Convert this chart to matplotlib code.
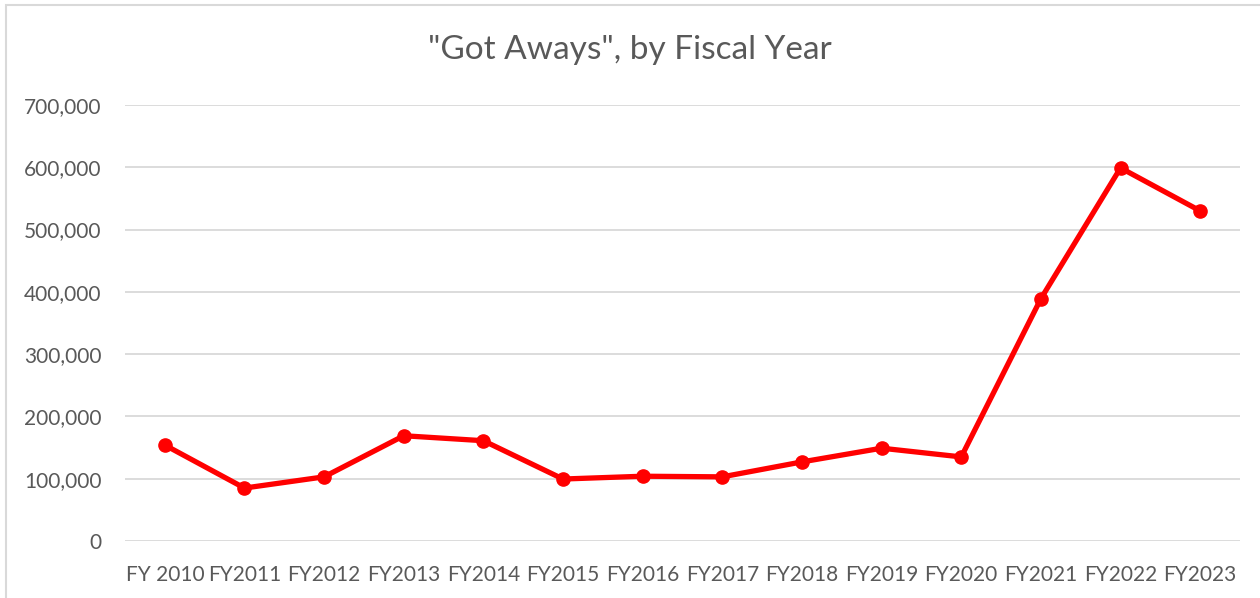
import matplotlib.pyplot as plt
from matplotlib.patches import Rectangle
from matplotlib.ticker import FuncFormatter

plt.rcParams['font.family'] = ['Lato', 'DejaVu Sans']

years = ['FY 2010', 'FY2011', 'FY2012', 'FY2013', 'FY2014', 'FY2015', 'FY2016',
         'FY2017', 'FY2018', 'FY2019', 'FY2020', 'FY2021', 'FY2022', 'FY2023']
got_aways = [154000, 85000, 103000, 169000, 161000, 99500, 104000,
             103000, 127000, 149000, 135000, 389000, 599000, 530000]

grey = '#595959'

fig = plt.figure(figsize=(12.6, 5.98), dpi=100)
ax = fig.add_axes([125 / 1260, 1 - 541 / 598, 1115 / 1260, 436 / 598])

x = range(len(years))
ax.plot(x, got_aways, color='#ff0000', linewidth=3.8, marker='o', markersize=9.5)

ax.set_xlim(-0.5, len(years) - 0.5)
ax.set_ylim(0, 700000)
ax.set_yticks(range(0, 700001, 100000))
ax.yaxis.set_major_formatter(FuncFormatter(lambda v, p: f'{int(v):,}'))
ax.set_xticks(list(x))
ax.set_xticklabels(years)
ax.grid(axis='y', color='#d9d9d9', linewidth=1.3)
ax.set_axisbelow(True)
for s in ax.spines.values():
    s.set_visible(False)
ax.tick_params(length=0, colors=grey, labelsize=15)
ax.tick_params(axis='y', pad=17)
ax.tick_params(axis='x', pad=17)

fig.text(0.5, 1 - 50 / 598, '"Got Aways", by Fiscal Year', ha='center', va='center',
         fontsize=24, color=grey)

fig.patches.append(Rectangle((6 / 1260, -0.01), 1.1, 1 - 5 / 598 + 0.01,
                             transform=fig.transFigure, fill=False,
                             edgecolor='#d9d9d9', linewidth=1.5))

fig.savefig('out.png', dpi=100)
